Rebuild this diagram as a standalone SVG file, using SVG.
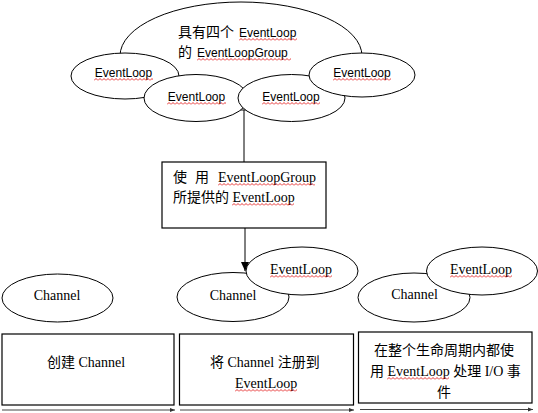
<svg xmlns="http://www.w3.org/2000/svg" width="538" height="413" viewBox="0 0 538 413">
<style>
.sh{fill:#fff;stroke:#000;stroke-width:1}
.box{fill:#fff;stroke:#000;stroke-width:1.2}
.sans{font-family:"Liberation Sans","Noto Sans CJK SC",sans-serif;font-size:12px;fill:#000}
.cjk{font-family:"Noto Sans CJK SC",sans-serif;font-size:14px}
.serif{font-family:"Liberation Serif","Noto Sans CJK SC",serif;font-size:14px;fill:#000}
.mid{text-anchor:middle}
.ln{stroke:#000;stroke-width:1;fill:none}
.tl{stroke:#444;stroke-width:1;fill:none}
.wv{fill:url(#wave)}
</style>
<defs>
<pattern id="wave" width="4" height="3" patternUnits="userSpaceOnUse">
<path d="M0,2.5 L2,0.5 L4,2.5" fill="none" stroke="#e00000" stroke-width="0.8"/>
</pattern>
<marker id="ah" markerWidth="10" markerHeight="10" refX="9" refY="5" orient="auto" markerUnits="userSpaceOnUse">
<path d="M0,1 L9,5 L0,9 Z" fill="#000"/>
</marker>
<marker id="sa" markerWidth="6" markerHeight="6" refX="5" refY="3" orient="auto" markerUnits="userSpaceOnUse">
<path d="M0,1 L5,3 L0,5 Z" fill="#333"/>
</marker>
</defs>

<g id="group-ellipse">
<ellipse class="sh" cx="241" cy="56" rx="121" ry="54"/>
<text class="sans"><tspan x="178" y="37" class="cjk">具有四个</tspan><tspan x="239" y="37">EventLoop</tspan></text>
<text class="sans"><tspan x="178" y="57" class="cjk">的</tspan><tspan x="197" y="57">EventLoopGroup</tspan></text>
</g>

<g id="connectors">
<line class="ln" x1="244" y1="110" x2="244" y2="162"/>
</g>

<g id="el1">
<ellipse class="sh" cx="125" cy="76" rx="54" ry="23"/>
<text class="sans mid" x="123.5" y="77">EventLoop</text>
</g>
<g id="el2">
<ellipse class="sh" cx="196" cy="98" rx="52" ry="23.5"/>
<text class="sans mid" x="196.5" y="101">EventLoop</text>
</g>
<g id="el3">
<ellipse class="sh" cx="291.5" cy="98" rx="53.5" ry="23.5"/>
<text class="sans mid" x="291" y="101">EventLoop</text>
</g>
<g id="el4">
<ellipse class="sh" cx="362" cy="75" rx="53" ry="22"/>
<text class="sans mid" x="362" y="77">EventLoop</text>
</g>

<g id="use-box">
<rect class="box" x="162" y="162" width="164" height="66"/>
<text class="serif"><tspan x="173" y="182">使</tspan><tspan x="195" y="182">用</tspan><tspan x="218" y="182">EventLoopGroup</tspan></text>
<text class="serif" x="173" y="202">所提供的 EventLoop</text>
</g>

<g id="channel1">
<ellipse class="sh" cx="57.5" cy="298" rx="55.5" ry="24"/>
<text class="serif mid" x="57" y="300">Channel</text>
</g>
<g id="channel2">
<ellipse class="sh" cx="233" cy="297" rx="56" ry="24.5"/>
<text class="serif mid" x="233" y="300">Channel</text>
</g>
<g id="eventloop2">
<ellipse class="sh" cx="302" cy="271" rx="56" ry="24"/>
<text class="serif mid" x="301" y="274">EventLoop</text>
</g>
<g id="channel3">
<ellipse class="sh" cx="414" cy="297.5" rx="56" ry="24.5"/>
<text class="serif mid" x="414.5" y="299">Channel</text>
</g>
<g id="eventloop3">
<ellipse class="sh" cx="482" cy="271" rx="55.5" ry="24"/>
<text class="serif mid" x="481" y="274">EventLoop</text>
</g>

<g id="step1">
<rect class="box" x="2" y="334" width="172" height="71"/>
<text class="serif" x="47" y="367">创建 Channel</text>
</g>
<g id="step2">
<rect class="box" x="179.5" y="334" width="174" height="71"/>
<text class="serif" x="210" y="367">将 Channel 注册到</text>
<text class="serif" x="235" y="388">EventLoop</text>
</g>
<g id="step3">
<rect class="box" x="358.5" y="332" width="173.5" height="71"/>
<text class="serif" x="374" y="355">在整个生命周期内都使</text>
<text class="serif" x="370" y="376">用 EventLoop 处理 I/O 事</text>
<text class="serif" x="437" y="397">件</text>
</g>

<g id="connectors-2">
<line class="ln" x1="245" y1="228" x2="245" y2="271" marker-end="url(#ah)"/>
<line class="tl" x1="2" y1="410" x2="175" y2="410" marker-end="url(#sa)"/>
<line class="tl" x1="180" y1="410" x2="354" y2="410" marker-end="url(#sa)"/>
<line class="tl" x1="360" y1="409.5" x2="533" y2="409.5" marker-end="url(#sa)"/>
</g>

<g id="spellcheck">
<rect class="wv" transform="translate(239,38)" width="58" height="3"/>
<rect class="wv" transform="translate(197,58)" width="94" height="3"/>
<rect class="wv" transform="translate(94,78)" width="59" height="3"/>
<rect class="wv" transform="translate(167,102)" width="59" height="3"/>
<rect class="wv" transform="translate(262,102)" width="58" height="3"/>
<rect class="wv" transform="translate(333,78)" width="58" height="3"/>
<rect class="wv" transform="translate(218,183)" width="97" height="3"/>
<rect class="wv" transform="translate(232,203)" width="62" height="3"/>
<rect class="wv" transform="translate(270,275)" width="62" height="3"/>
<rect class="wv" transform="translate(450,275)" width="62" height="3"/>
<rect class="wv" transform="translate(235,389)" width="62" height="3"/>
<rect class="wv" transform="translate(387,377)" width="62" height="3"/>
</g>
</svg>
